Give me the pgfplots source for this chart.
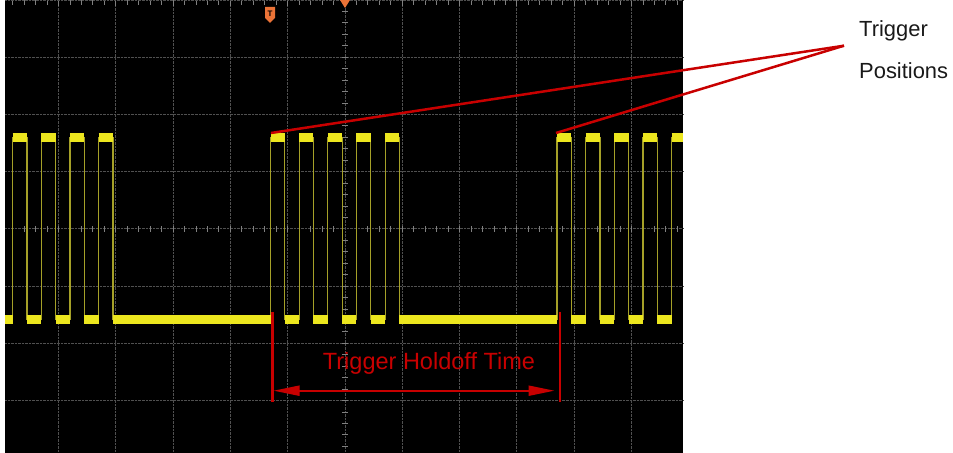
\documentclass[border=0pt]{standalone}
\usepackage{pgfplots}
\pgfplotsset{compat=1.18}
\usepackage{pgfplotstable}
\usepackage{fontspec}
\setmainfont{Liberation Sans}
\usetikzlibrary{arrows.meta}
\definecolor{scopered}{RGB}{200,0,0}
\definecolor{ytrace}{RGB}{236,230,30}
\definecolor{yedge}{RGB}{165,160,40}
\definecolor{gridc}{RGB}{80,80,80}
\definecolor{trigorange}{RGB}{235,115,55}
\definecolor{textdark}{RGB}{25,25,25}

% full waveform (edges)
\pgfplotstableread{
x y
-5.934 -1.58
-5.8 -1.58
-5.8 1.6
-5.55 1.6
-5.55 -1.58
-5.3 -1.58
-5.3 1.6
-5.05 1.6
-5.05 -1.58
-4.8 -1.58
-4.8 1.6
-4.55 1.6
-4.55 -1.58
-4.3 -1.58
-4.3 1.6
-4.05 1.6
-4.05 -1.58
-1.3 -1.58
-1.3 1.6
-1.05 1.6
-1.05 -1.58
-0.8 -1.58
-0.8 1.6
-0.55 1.6
-0.55 -1.58
-0.3 -1.58
-0.3 1.6
-0.05 1.6
-0.05 -1.58
0.2 -1.58
0.2 1.6
0.45 1.6
0.45 -1.58
0.7 -1.58
0.7 1.6
0.95 1.6
0.95 -1.58
3.7 -1.58
3.7 1.6
3.95 1.6
3.95 -1.58
4.2 -1.58
4.2 1.6
4.45 1.6
4.45 -1.58
4.7 -1.58
4.7 1.6
4.95 1.6
4.95 -1.58
5.2 -1.58
5.2 1.6
5.45 1.6
5.45 -1.58
5.7 -1.58
5.7 1.6
5.899 1.6
}\wave

% high level segments
\pgfplotstableread{
x y
-5.8 1.6
-5.55 1.6
nan nan
-5.3 1.6
-5.05 1.6
nan nan
-4.8 1.6
-4.55 1.6
nan nan
-4.3 1.6
-4.05 1.6
nan nan
-1.3 1.6
-1.05 1.6
nan nan
-0.8 1.6
-0.55 1.6
nan nan
-0.3 1.6
-0.05 1.6
nan nan
0.2 1.6
0.45 1.6
nan nan
0.7 1.6
0.95 1.6
nan nan
3.7 1.6
3.95 1.6
nan nan
4.2 1.6
4.45 1.6
nan nan
4.7 1.6
4.95 1.6
nan nan
5.2 1.6
5.45 1.6
nan nan
5.7 1.6
5.899 1.6
}\highs

% low level segments
\pgfplotstableread{
x y
-5.934 -1.58
-5.8 -1.58
nan nan
-5.55 -1.58
-5.3 -1.58
nan nan
-5.05 -1.58
-4.8 -1.58
nan nan
-4.55 -1.58
-4.3 -1.58
nan nan
-4.05 -1.58
-1.3 -1.58
nan nan
-1.05 -1.58
-0.8 -1.58
nan nan
-0.55 -1.58
-0.3 -1.58
nan nan
-0.05 -1.58
0.2 -1.58
nan nan
0.45 -1.58
0.7 -1.58
nan nan
0.95 -1.58
3.7 -1.58
nan nan
3.95 -1.58
4.2 -1.58
nan nan
4.45 -1.58
4.7 -1.58
nan nan
4.95 -1.58
5.2 -1.58
nan nan
5.45 -1.58
5.7 -1.58
}\lows

\pgfplotsset{
  scopeaxis/.style={
    scale only axis, width=678bp, height=453bp,
    xmin=-5.934, xmax=5.899, ymin=-3.916, ymax=4.0,
    at={(5bp,0bp)}, anchor=south west,
    xticklabels={}, yticklabels={},
  }
}

\begin{document}
\begin{tikzpicture}
\path[use as bounding box] (0,0) rectangle (953bp,453bp);

% screen background, grid, top-edge ticks
\begin{axis}[scopeaxis,
  axis background/.style={fill=black},
  axis line style={draw=none},
  xtick={-6,...,6},
  ytick=\empty,
  extra y ticks={-4,...,4},
  extra y tick labels={},
  extra y tick style={major tick length=0pt, grid=major, tick style={draw=none}},
  grid=major,
  major grid style={gridc, densely dotted, line width=0.9bp},
  xtick pos=right,
  minor x tick num=4,
  tick align=inside,
  major tick length=6bp, minor tick length=5bp,
  xtick style={gray, line width=0.9bp},
]
\addplot[draw=none] coordinates {(0,0)};
\end{axis}

% centre cross ticks and waveform
\begin{axis}[scopeaxis,
  xtick={-6,...,6}, ytick={-4,...,4},
  axis lines=middle,
  axis line style={draw=none},
  minor x tick num=4, minor y tick num=4,
  tick align=center,
  major tick length=6bp, minor tick length=6bp,
  tick style={gray, line width=0.9bp},
  unbounded coords=jump,
]
\addplot[yedge, line width=1.2bp, no markers] table[x=x,y=y] {\wave};
\addplot[ytrace, line width=9.5bp, no markers, line cap=butt] table[x=x,y=y] {\lows};
\addplot[ytrace, line width=9.5bp, no markers, line cap=butt] table[x=x,y=y] {\highs};
\end{axis}

\begin{scope}[x=1bp,y=1bp]
% trigger markers
\fill[trigorange] (340,453) -- (350,453) -- (345,445) -- cycle;
\fill[trigorange] (265,446) -- (275,446) -- (275,435) -- (270,430) -- (265,435) -- cycle;
\node[inner sep=0, text=black, font=\fontsize{8}{8}\selectfont\bfseries] at (270,439.5) {T};

% annotation lines
\draw[scopered, line width=2.5bp] (271,320) -- (844,407.3);
\draw[scopered, line width=2.5bp] (556,320) -- (844,407.3);
\draw[scopered, line width=2.5bp] (272.5,141) -- (272.5,51);
\draw[scopered, line width=2.5bp] (560,141) -- (560,51);
\draw[scopered, line width=2bp, {Triangle[length=26bp,width=10bp]}-{Triangle[length=26bp,width=10bp]}] (273.5,62.3) -- (554.5,62.3);

\node[anchor=base west, inner sep=0, text=scopered, font=\fontsize{23.6}{28}\selectfont] at (322.7,84) {Trigger Holdoff Time};
\node[anchor=base west, inner sep=0, text=textdark, font=\fontsize{22}{26}\selectfont] at (859,416.3) {Trigger};
\node[anchor=base west, inner sep=0, text=textdark, font=\fontsize{22}{26}\selectfont] at (859,374.7) {Positions};
\end{scope}
\end{tikzpicture}
\end{document}
